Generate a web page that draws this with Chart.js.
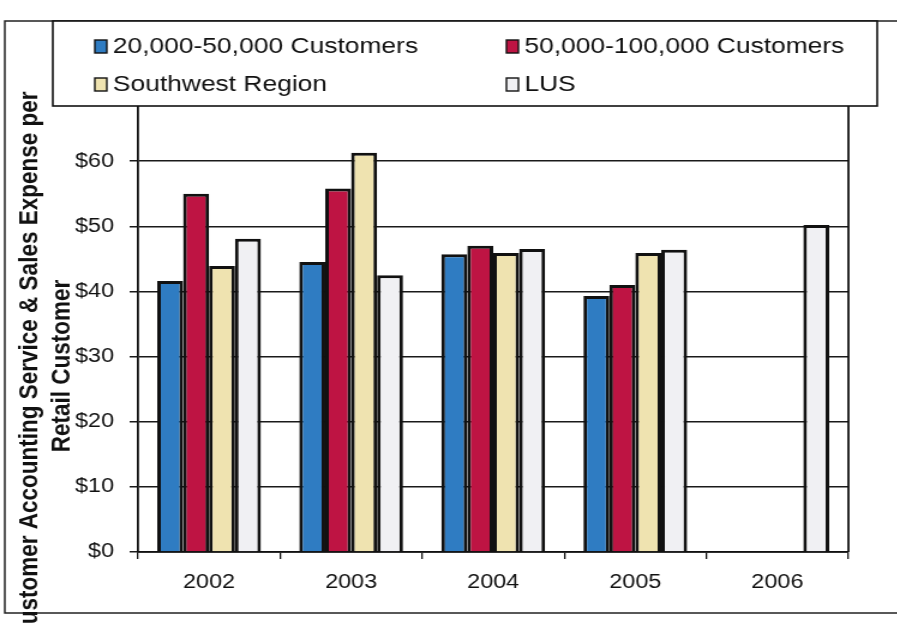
<!DOCTYPE html>
<html>
<head>
<meta charset="utf-8">
<script src="https://cdn.jsdelivr.net/npm/chart.js@4"></script>
<style>
  html, body { margin: 0; padding: 0; background: #fff; overflow: hidden; }
  /* the chart is laid out on a narrower canvas and widened horizontally */
  #wrap { position: absolute; left: 0; top: 0; width: 748px; height: 623px;
          transform: scaleX(1.2); transform-origin: 0 0; }
</style>
</head>
<body>
<div id="wrap"><canvas id="chart"></canvas></div>
<script>
// ---- data ----
const years = ['2002', '2003', '2004', '2005', '2006'];
const utilities20to50k = [41.6, 44.5, 45.7, 39.3, null];
const utilities50to100k = [55.0, 55.8, 47.0, 41.0, null];
const southwestRegion = [43.9, 61.3, 45.9, 45.9, null];
const lus = [48.1, 42.5, 46.5, 46.4, 50.2];
const seriesNames = ['20,000-50,000 Customers', '50,000-100,000 Customers', 'Southwest Region', 'LUS'];
const yTickValues = [0, 10, 20, 30, 40, 50, 60];
const yTitleLines = ['Customer Accounting Service & Sales Expense per', 'Retail Customer'];

const FONT = '"Liberation Sans", Arial, sans-serif';
const INK = '#111';

// border of the whole chart, legend box and the rotated value-axis title
const decorations = {
  id: 'decorations',
  afterDatasetsDraw(chart) {
    const { ctx, chartArea: a } = chart;
    ctx.save();
    ctx.strokeStyle = INK;
    ctx.lineWidth = 1.8;
    ctx.beginPath();
    ctx.moveTo(a.right, a.top);
    ctx.lineTo(a.right, a.bottom);
    ctx.stroke();
    ctx.restore();
  },
  afterDraw(chart) {
    const ctx = chart.ctx;
    ctx.save();
    // outer frame
    ctx.strokeStyle = '#222';
    ctx.lineWidth = 1.5;
    ctx.strokeRect(4, 21, 800, 592);

    // legend box
    const box = { x: 44, y: 21, w: 687, h: 85 };
    ctx.fillStyle = '#fff';
    ctx.fillRect(box.x, box.y, box.w, box.h);
    ctx.strokeStyle = INK;
    ctx.lineWidth = 1.6;
    ctx.strokeRect(box.x, box.y, box.w, box.h);

    const colX = [79, 422];
    const rowY = [46, 84];
    ctx.font = '22px ' + FONT;
    ctx.textBaseline = 'middle';
    ctx.textAlign = 'left';
    chart.data.datasets.forEach((ds, i) => {
      const x = colX[i % 2], y = rowY[Math.floor(i / 2)];
      ctx.fillStyle = ds.backgroundColor;
      ctx.fillRect(x, y - 6, 10, 13);
      ctx.strokeStyle = INK;
      ctx.lineWidth = 1.4;
      ctx.strokeRect(x, y - 6, 10, 13);
      ctx.fillStyle = INK;
      ctx.fillText(ds.label, x + 15, y + 1);
    });

    // value-axis title, two centred lines
    ctx.font = 'bold 22.5px ' + FONT;
    ctx.fillStyle = INK;
    ctx.textAlign = 'center';
    ctx.textBaseline = 'middle';
    ctx.translate(25, 366);
    ctx.rotate(-Math.PI / 2);
    yTitleLines.forEach((line, i) => ctx.fillText(line, 0, i * 27));
    ctx.restore();
  }
};

const barStyle = { borderColor: INK, borderWidth: 3 };

new Chart(document.getElementById('chart'), {
  type: 'bar',
  data: {
    labels: years,
    datasets: [
      { label: seriesNames[0], data: utilities20to50k, backgroundColor: '#2F7CC2', ...barStyle },
      { label: seriesNames[1], data: utilities50to100k, backgroundColor: '#BE1443', ...barStyle },
      { label: seriesNames[2], data: southwestRegion, backgroundColor: '#EFE3B0', ...barStyle },
      { label: seriesNames[3], data: lus, backgroundColor: '#F0F0F3', ...barStyle }
    ]
  },
  options: {
    responsive: true,
    maintainAspectRatio: false,
    animation: false,
    events: [],
    layout: { padding: { top: 96, right: 41, bottom: 26, left: 0 } },
    datasets: { bar: { categoryPercentage: 0.73, barPercentage: 1.0 } },
    plugins: { legend: { display: false }, tooltip: { enabled: false } },
    scales: {
      x: {
        grid: { display: true, drawOnChartArea: false, drawTicks: true, tickLength: 7,
                color: INK, lineWidth: 1.3, offset: true },
        border: { display: true, color: INK, width: 1.8 },
        ticks: { color: INK, font: { family: FONT, size: 19.5 }, padding: 12 },
        afterFit(scale) { scale.height = 45; }
      },
      y: {
        min: 0,
        max: 70,
        afterBuildTicks(scale) { scale.ticks = yTickValues.map(v => ({ value: v })); },
        grid: { color: '#1a1a1a', lineWidth: 1.5, tickLength: 7, drawTicks: true },
        border: { display: true, color: INK, width: 1.8 },
        ticks: { color: INK, font: { family: FONT, size: 19.5 }, padding: 13,
                 callback: v => '$' + v },
        afterFit(scale) { scale.width = 115; }
      }
    }
  },
  plugins: [decorations]
});
</script>
</body>
</html>
